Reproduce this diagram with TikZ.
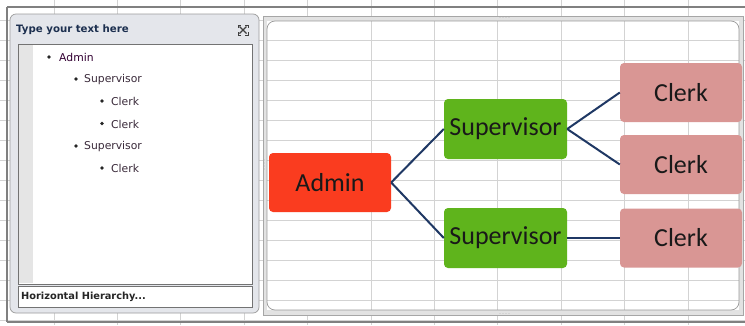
\documentclass[tikz,border=0pt]{standalone}
\usepackage{fontspec}
\setmainfont{Carlito}
\newfontfamily\panefont{DejaVu Sans}
\definecolor{gridc}{HTML}{D3D3D3}
\definecolor{edgec}{HTML}{808080}
\definecolor{panefill}{HTML}{E4E6EB}
\definecolor{paneedge}{HTML}{9C9C9C}
\definecolor{titlec}{HTML}{1C2F4F}
\definecolor{listc}{HTML}{3A2A3A}
\definecolor{adminc}{HTML}{FA3C1F}
\definecolor{supc}{HTML}{5FB41C}
\definecolor{clerkc}{HTML}{D99694}
\definecolor{linkc}{HTML}{1F3864}
\definecolor{framec}{HTML}{E2E2E2}
\begin{document}
\begin{tikzpicture}[x=1pt,y=-1pt,
  gridline/.style={draw=gridc,line width=0.7pt},
  border/.style={draw=edgec,line width=1.6pt},
  boxnode/.style={rectangle,rounded corners=4pt,minimum width=122pt,minimum height=59pt,inner sep=0pt,font=\fontsize{26}{28}\selectfont,text=black!90},
  adminbox/.style={boxnode,fill=adminc},
  supbox/.style={boxnode,fill=supc,minimum width=123pt,minimum height=60pt},
  clerkbox/.style={boxnode,fill=clerkc},
  link/.style={draw=linkc,line width=2pt},
  item/.style={anchor=west,inner sep=0pt,font=\panefont\fontsize{10.8}{12}\selectfont,text=listc},
  bulletdot/.style={circle,fill=black!85,inner sep=0pt,minimum size=3.8pt},
  handle/.style={fill=black!35,inner sep=0pt,minimum size=0.9pt,circle}
]
\useasboundingbox (0,0) rectangle (745,325);
\fill[white] (0,0) rectangle (745,325);
% grid
\foreach \k in {0,...,10} {\draw[gridline] ({54+63.4*\k},0) -- ({54+63.4*\k},325);}
\foreach \k in {1,...,16} {\draw[gridline] (0,{20*\k}) -- (745,{20*\k});}
% sheet borders
\draw[border] (7,7) -- (745,7);
\draw[border] (7,7) -- (7,322);
\draw[border] (7,322) -- (745,322);
% right canvas frame
\draw[draw=black!35,fill=framec,line width=0.6pt] (263,16) rectangle (743.5,315);
\fill[white] (267,21) rectangle (739,310);
\foreach \k in {5,...,10} {\draw[gridline] ({54+63.4*\k},21) -- ({54+63.4*\k},310);}
\foreach \k in {2,...,15} {\draw[gridline] (267,{20*\k}) -- (739,{20*\k});}
\draw[draw=black!40,line width=0.7pt,rounded corners=8pt] (267,21) rectangle (739,310);
% handles
\foreach \i in {0,...,3} {
  \node[handle] at ({500+3*\i},17.5) {};
  \node[handle] at ({500+3*\i},313.5) {};
  \node[handle] at (264.5,{160+3*\i}) {};
}
% left text pane
\draw[draw=paneedge,fill=panefill,line width=0.7pt,rounded corners=6pt] (10,14) rectangle (259,313);
\node[anchor=west,inner sep=0pt,text=titlec,font=\panefont\bfseries\fontsize{10.2}{12}\selectfont] (title) at (16,29.5) {Type your text here};
% close icon
\begin{scope}[shift={(243,30)}]
  \draw[black!75,line width=1.3pt] (-3.5,-3.5) -- (3.5,3.5) (-3.5,3.5) -- (3.5,-3.5);
  \draw[black!75,line width=0.8pt] (-5,-2) -- (-5,-5) -- (-2,-5) (2,-5) -- (5,-5) -- (5,-2)
     (5,2) -- (5,5) -- (2,5) (-2,5) -- (-5,5) -- (-5,2);
\end{scope}
\draw[draw=black!55,fill=white,line width=0.7pt] (18,44) rectangle (252,284);
\fill[black!10] (19,45) rectangle (33,283);
\node[bulletdot] (b1) at (49,57) {};
\node[item,text=violet!40!black] (t1) at (59,57.5) {Admin};
\node[bulletdot] (b2) at (76,79) {};
\node[item] (t2) at (84,79.5) {Supervisor};
\node[bulletdot] (b3) at (102,101) {};
\node[item] (t3) at (111,101.5) {Clerk};
\node[bulletdot] (b4) at (102,123.5) {};
\node[item] (t4) at (111,124) {Clerk};
\node[bulletdot] (b5) at (76,146) {};
\node[item] (t5) at (84,146.5) {Supervisor};
\node[bulletdot] (b6) at (102,168) {};
\node[item] (t6) at (111,168.5) {Clerk};
\draw[draw=black!55,fill=white,line width=0.7pt] (18,286) rectangle (252,307);
\node[anchor=west,inner sep=0pt,text=black!85,font=\panefont\bfseries\fontsize{9.8}{11}\selectfont] (layout) at (21,297) {Horizontal Hierarchy...};
% diagram nodes
\node[adminbox] (admin) at (330,182.5) {Admin};
\node[supbox] (sup1) at (505.5,129) {Supervisor};
\node[supbox] (sup2) at (505.5,238) {Supervisor};
\node[clerkbox] (c1) at (681,92.5) {Clerk};
\node[clerkbox] (c2) at (681,164.5) {Clerk};
\node[clerkbox] (c3) at (681,238) {Clerk};
% connectors
\draw[link] (admin.east) -- (sup1.west);
\draw[link] (admin.east) -- (sup2.west);
\draw[link] (sup1.east) -- (c1.west);
\draw[link] (sup1.east) -- (c2.west);
\draw[link] (sup2.east) -- (c3.west);
\end{tikzpicture}
\end{document}
